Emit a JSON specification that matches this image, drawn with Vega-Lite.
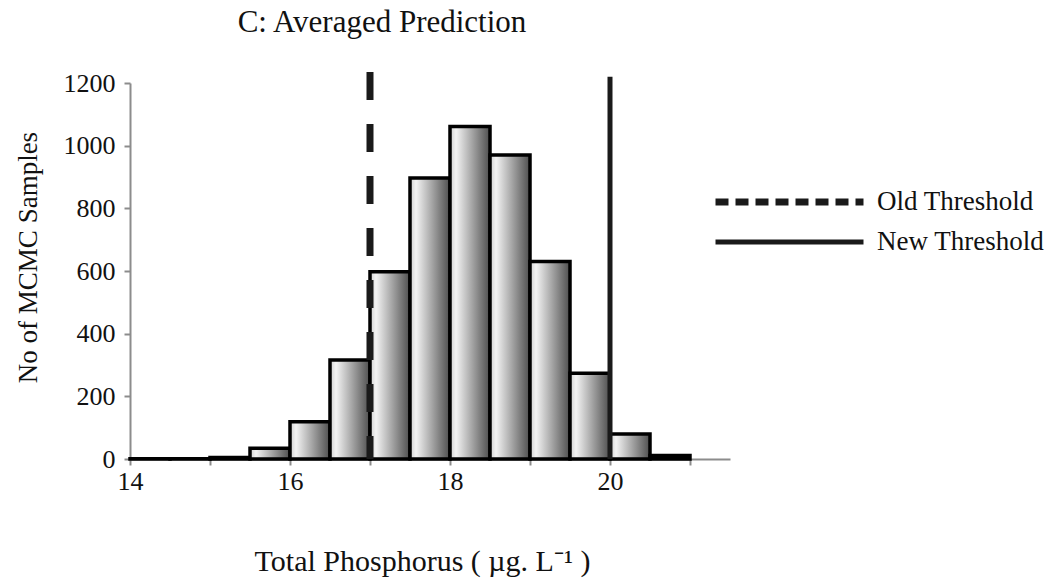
{
  "$schema": "https://vega.github.io/schema/vega-lite/v6.json",
  "autosize": "none",
  "width": 600,
  "height": 376,
  "padding": {"left": 130, "top": 83, "right": 332, "bottom": 121},
  "background": "white",
  "config": {
    "font": "Liberation Serif",
    "view": {"stroke": null},
    "title": {"font": "Liberation Serif"},
    "legend": {"labelFont": "Liberation Serif", "titleFont": "Liberation Serif"},
    "axis": {"grid": false, "domainColor": "#8c8c8c", "domainWidth": 2, "tickColor": "#8c8c8c", "tickWidth": 2, "tickSize": 6, "labelColor": "#111", "titleColor": "#111", "labelFont": "Liberation Serif", "titleFont": "Liberation Serif", "titleFontWeight": "normal"}
  },
  "title": {"text": "C: Averaged Prediction", "font": "Liberation Serif", "fontSize": 31, "fontWeight": "normal", "color": "#111", "anchor": "middle", "frame": "group", "dx": -48, "offset": 30},
  "resolve": {"scale": {"strokeDash": "independent", "strokeWidth": "independent"}, "legend": {"strokeDash": "independent", "strokeWidth": "independent"}},
  "layer": [
    {
      "data": {"values": [
        {"start": 14.0, "end": 14.5, "count": 1},
        {"start": 14.5, "end": 15.0, "count": 1},
        {"start": 15.0, "end": 15.5, "count": 5},
        {"start": 15.5, "end": 16.0, "count": 34},
        {"start": 16.0, "end": 16.5, "count": 119},
        {"start": 16.5, "end": 17.0, "count": 316},
        {"start": 17.0, "end": 17.5, "count": 598},
        {"start": 17.5, "end": 18.0, "count": 897},
        {"start": 18.0, "end": 18.5, "count": 1061},
        {"start": 18.5, "end": 19.0, "count": 970},
        {"start": 19.0, "end": 19.5, "count": 630},
        {"start": 19.5, "end": 20.0, "count": 274},
        {"start": 20.0, "end": 20.5, "count": 80},
        {"start": 20.5, "end": 21.0, "count": 11}
      ]},
      "mark": {"type": "rect", "stroke": "#000", "strokeWidth": 3.5,
        "fill": {"gradient": "linear", "x1": 0, "x2": 1, "y1": 0, "y2": 0,
          "stops": [{"offset": 0, "color": "#cfcfcf"}, {"offset": 0.15, "color": "#f3f3f3"}, {"offset": 1, "color": "#4e4e4e"}]}},
      "encoding": {
        "x": {"field": "start", "type": "quantitative",
          "scale": {"domain": [14, 21.5], "nice": false, "zero": false},
          "axis": {"values": [14, 14.5, 15, 15.5, 16, 16.5, 17, 17.5, 18, 18.5, 19, 19.5, 20, 20.5, 21, 21.5],
            "labelExpr": "datum.value % 2 == 0 ? format(datum.value, 'd') : ''", "labelFontSize": 26, "labelPadding": 3, "labelFlush": false,
            "title": "Total Phosphorus ( µg. L⁻¹ )", "titleFontSize": 30, "titleX": 292, "titleY": 111, "titleBaseline": "alphabetic", "titleAlign": "center"}},
        "x2": {"field": "end"},
        "y": {"field": "count", "type": "quantitative",
          "scale": {"domain": [0, 1200], "nice": false},
          "axis": {"values": [0, 200, 400, 600, 800, 1000, 1200], "format": "d", "labelFontSize": 26, "labelPadding": 9,
            "title": "No of MCMC Samples", "titleFontSize": 27, "titleX": -102, "titleY": 174, "titleBaseline": "middle", "titleAlign": "center", "titleAngle": 270}},
        "y2": {"datum": 0}
      }
    },
    {
      "data": {"values": [
        {"name": "Old Threshold", "x": 17, "top": 1235},
        {"name": "New Threshold", "x": 20, "top": 1220}
      ]},
      "mark": {"type": "rule", "color": "#1a1a1a"},
      "encoding": {
        "x": {"field": "x", "type": "quantitative"},
        "y": {"field": "top", "type": "quantitative"},
        "y2": {"datum": 0},
        "strokeDash": {"field": "name", "type": "nominal",
          "scale": {"domain": ["Old Threshold", "New Threshold"], "range": [[28, 24], [1, 0]]}, "legend": null},
        "strokeWidth": {"field": "name", "type": "nominal",
          "scale": {"domain": ["Old Threshold", "New Threshold"], "range": [7, 5]}, "legend": null}
      }
    },
    {
      "data": {"values": [
        {"name": "Old Threshold", "x": 17, "top": 1235},
        {"name": "New Threshold", "x": 20, "top": 1220}
      ]},
      "mark": {"type": "rule", "color": "#1a1a1a"},
      "encoding": {
        "x": {"field": "x", "type": "quantitative"},
        "y": {"field": "top", "type": "quantitative"},
        "y2": {"field": "top"},
        "strokeDash": {"field": "name", "type": "nominal",
          "scale": {"domain": ["Old Threshold", "New Threshold"], "range": [[13, 7], [1, 0]]},
          "legend": {"title": null, "orient": "none", "legendX": 582, "legendY": 104, "padding": 0,
            "symbolType": "stroke", "symbolSize": 21904, "symbolStrokeColor": "#1a1a1a", "clipHeight": 30,
            "labelFont": "Liberation Serif", "labelFontSize": 27, "labelColor": "#111", "labelOffset": 10, "labelLimit": 300, "rowPadding": 10}},
        "strokeWidth": {"field": "name", "type": "nominal",
          "scale": {"domain": ["Old Threshold", "New Threshold"], "range": [7, 5]},
          "legend": {"title": null, "orient": "none", "legendX": 582, "legendY": 104, "padding": 0,
            "symbolType": "stroke", "symbolSize": 21904, "symbolStrokeColor": "#1a1a1a", "clipHeight": 30,
            "labelFont": "Liberation Serif", "labelFontSize": 27, "labelColor": "#111", "labelOffset": 10, "labelLimit": 300, "rowPadding": 10}}
      }
    }
  ]
}
